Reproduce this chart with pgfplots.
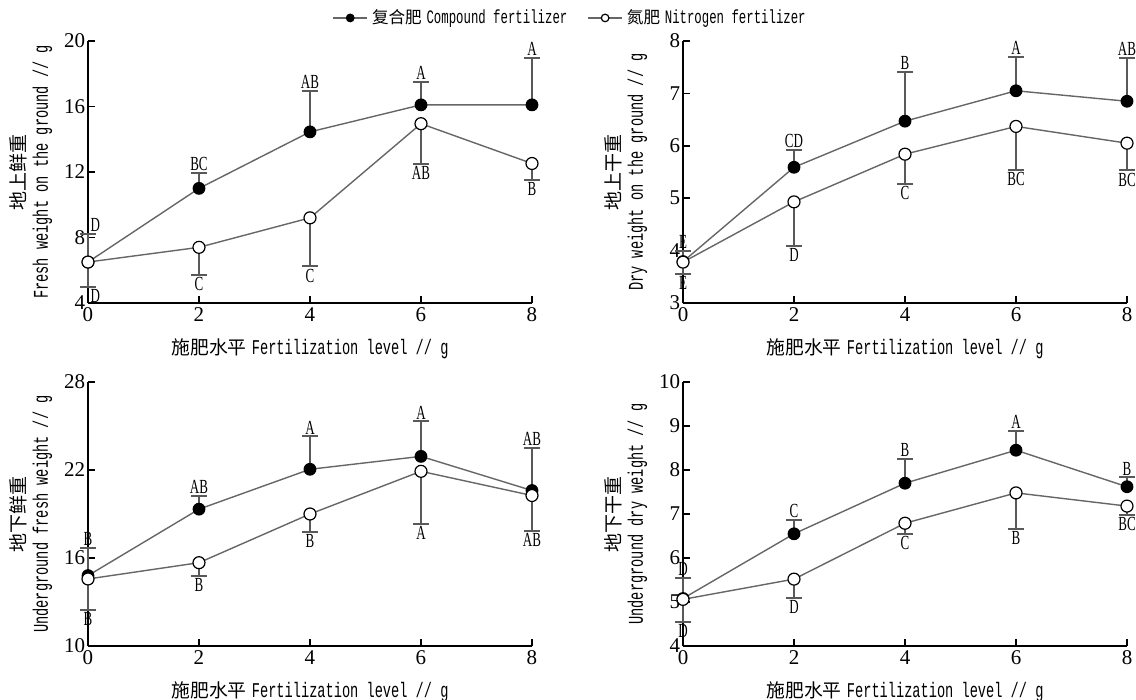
\documentclass[border=0pt]{standalone}
\usepackage{pgfplots}
\pgfplotsset{compat=1.18}
\usepackage{fontspec}
\setmainfont{Liberation Serif}
\newfontfamily\cjk{Noto Sans CJK SC}
\newfontfamily\monoc[FakeStretch=0.65]{Liberation Mono}
\newfontfamily\serifc[FakeStretch=0.65]{Liberation Serif}

\pgfplotsset{
  panel/.style={
    scale only axis, width=222pt,
    xmin=0, xmax=8, xtick={0,2,4,6,8},
    enlargelimits=false, clip=false,
    axis x line*=bottom, axis y line*=left,
    axis line style={-, black, line width=1pt},
    tick align=inside, major tick length=3.5pt,
    tick style={black, line width=0.8pt},
    /pgf/number format/assume math mode=true,
    tick label style={font=\fontsize{10.5}{11}\selectfont},
    yticklabel style={inner sep=1.2pt},
    xticklabel style={inner sep=2pt},
    xlabel={{\cjk\fontsize{9.4}{11}\selectfont 施肥水平} {\monoc Fertilization level // g}},
    xlabel style={at={(axis description cs:0.5,0)}, anchor=center, yshift=-23pt, font=\fontsize{10.5}{11}\selectfont},
    ylabel style={at={(axis description cs:-0.128,0.5)}, anchor=center, align=center, font=\fontsize{10.5}{11}\selectfont},
  },
  comp/.style={black!60, line width=0.7pt, mark=*, mark size=2.9pt,
    mark options={fill=black, draw=black, line width=0.6pt},
    error bars/.cd, y dir=plus, y explicit,
    error bar style={black!65, line width=1pt},
    error mark options={rotate=90, black!65, mark size=3.8pt, line width=1pt}},
  nitro/.style={black!60, line width=0.7pt, mark=*, mark size=3pt,
    mark options={fill=white, draw=black, line width=0.6pt},
    error bars/.cd, y dir=minus, y explicit,
    error bar style={black!65, line width=1pt},
    error mark options={rotate=90, black!65, mark size=3.8pt, line width=1pt}},
  up/.style={draw=none, forget plot, nodes near coords, point meta=explicit symbolic,
    nodes near coords style={anchor=south, inner sep=1pt, font=\serifc\fontsize{10}{10}\selectfont}},
  down/.style={draw=none, forget plot, nodes near coords, point meta=explicit symbolic,
    nodes near coords style={anchor=north, inner sep=1pt, font=\serifc\fontsize{10}{10}\selectfont}},
}

\begin{document}
\begin{tikzpicture}
\useasboundingbox (0pt,0pt) rectangle (568pt,-350pt);

% top left: fresh weight above ground
\begin{axis}[panel, height=131pt, at={(44pt,-151.5pt)}, anchor=south west,
    ymin=4, ymax=20, ytick={4,8,12,16,20},
    ylabel={{\cjk\fontsize{9.5}{11}\selectfont 地上鲜重}\\{\monoc Fresh weight on the ground // g}},
    legend style={at={(1.088,1.088)}, anchor=center, draw=none, fill=none,
      legend columns=2, font=\fontsize{9.5}{11}\selectfont,
      /tikz/every even column/.append style={column sep=8pt}},
    legend image post style={mark size=1.9pt}]
\addplot[comp] table[x=x, y=y, y error=e] {
x y e
0 6.5 1.7
2 11.0 0.95
4 14.45 2.52
6 16.1 1.4
8 16.1 2.87
};
\addlegendentry{{\cjk\fontsize{8.3}{10}\selectfont 复合肥} {\monoc Compound fertilizer}}
\addplot[nitro] table[x=x, y=y, y error=e] {
x y e
0 6.5 1.53
2 7.4 1.67
4 9.2 2.97
6 14.95 2.45
8 12.52 1.0
};
\addlegendentry{{\cjk\fontsize{8.3}{10}\selectfont 氮肥} {\monoc Nitrogen fertilizer}}
\addplot[up] table[meta=l] {
x y l
0.13 8.2 D
2 11.95 BC
4 16.97 AB
6 17.5 A
8 18.97 A
};
\addplot[down] table[meta=l] {
x y l
0.13 4.97 D
2 5.73 C
4 6.23 C
6 12.5 AB
8 11.52 B
};
\end{axis}

% top right: dry weight above ground
\begin{axis}[panel, height=131pt, at={(341.5pt,-151.5pt)}, anchor=south west,
    ymin=3, ymax=8, ytick={3,4,5,6,7,8},
    ylabel={{\cjk\fontsize{9.5}{11}\selectfont 地上干重}\\{\monoc Dry weight on the ground // g}}]
\addplot[comp] table[x=x, y=y, y error=e] {
x y e
0 3.79 0.2
2 5.59 0.33
4 6.47 0.94
6 7.05 0.65
8 6.85 0.82
};
\addplot[nitro] table[x=x, y=y, y error=e] {
x y e
0 3.78 0.23
2 4.93 0.84
4 5.84 0.56
6 6.37 0.83
8 6.05 0.52
};
\addplot[up] table[meta=l] {
x y l
0 3.99 E
2 5.92 CD
4 7.41 B
6 7.70 A
8 7.67 AB
};
\addplot[down] table[meta=l] {
x y l
0 3.55 E
2 4.09 D
4 5.28 C
6 5.54 BC
8 5.53 BC
};
\end{axis}

% bottom left: fresh weight underground
\begin{axis}[panel, height=132pt, at={(44pt,-323pt)}, anchor=south west,
    ymin=10, ymax=28, ytick={10,16,22,28},
    ylabel={{\cjk\fontsize{9.5}{11}\selectfont 地下鲜重}\\{\monoc Underground fresh weight // g}}]
\addplot[comp] table[x=x, y=y, y error=e] {
x y e
0 14.8 1.88
2 19.33 0.9
4 22.05 2.24
6 22.93 2.38
8 20.6 2.87
};
\addplot[nitro] table[x=x, y=y, y error=e] {
x y e
0 14.57 2.12
2 15.68 0.9
4 19.0 1.26
6 21.91 3.58
8 20.26 2.4
};
\addplot[up] table[meta=l] {
x y l
0 16.68 B
2 20.23 AB
4 24.29 A
6 25.31 A
8 23.47 AB
};
\addplot[down] table[meta=l] {
x y l
0 12.45 B
2 14.78 B
4 17.74 B
6 18.33 A
8 17.86 AB
};
\end{axis}

% bottom right: dry weight underground
\begin{axis}[panel, height=132pt, at={(341.5pt,-323pt)}, anchor=south west,
    ymin=4, ymax=10, ytick={4,5,6,7,8,9,10},
    ylabel={{\cjk\fontsize{9.5}{11}\selectfont 地下干重}\\{\monoc Underground dry weight // g}}]
\addplot[comp] table[x=x, y=y, y error=e] {
x y e
0 5.08 0.46
2 6.55 0.31
4 7.7 0.56
6 8.45 0.44
8 7.62 0.21
};
\addplot[nitro] table[x=x, y=y, y error=e] {
x y e
0 5.06 0.52
2 5.52 0.44
4 6.79 0.25
6 7.48 0.83
8 7.18 0.2
};
\addplot[up] table[meta=l] {
x y l
0 5.54 D
2 6.86 C
4 8.26 B
6 8.89 A
8 7.83 B
};
\addplot[down] table[meta=l] {
x y l
0 4.54 D
2 5.08 D
4 6.54 C
6 6.65 B
8 6.98 BC
};
\end{axis}
\end{tikzpicture}
\end{document}
